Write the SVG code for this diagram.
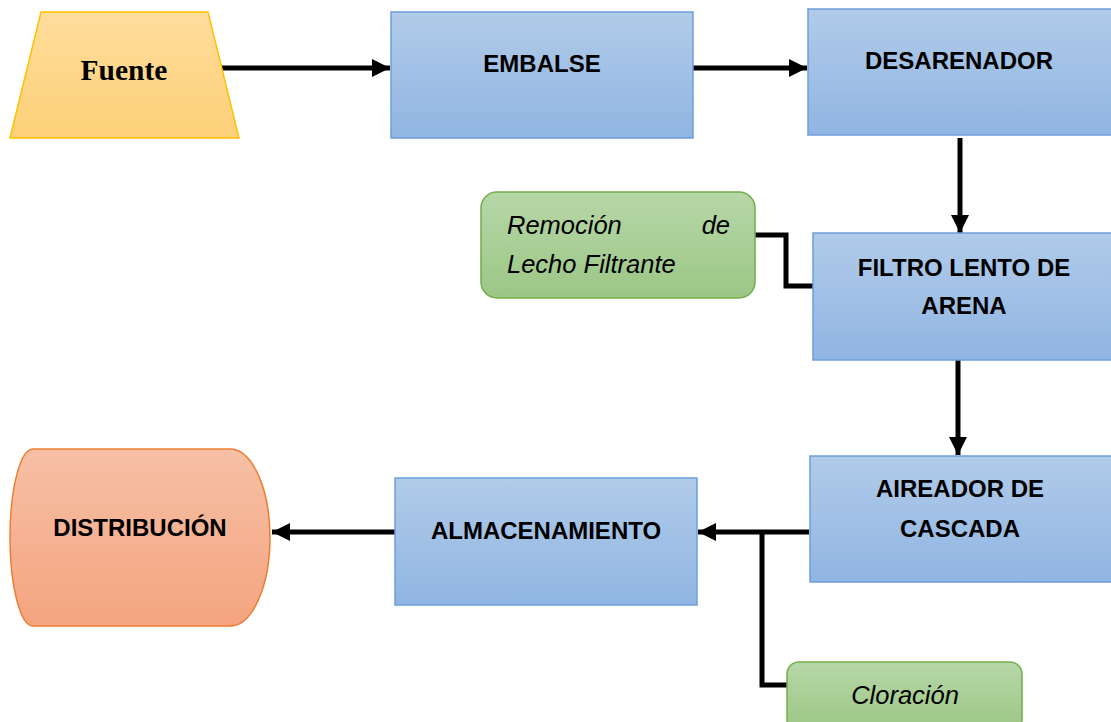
<svg xmlns="http://www.w3.org/2000/svg" width="1111" height="722" viewBox="0 0 1111 722">
<defs>
<linearGradient id="gBlue" x1="0" y1="0" x2="0" y2="1"><stop offset="0" stop-color="#b1cbe9"/><stop offset="1" stop-color="#90b5e2"/></linearGradient>
<linearGradient id="gYel" x1="0" y1="0" x2="0" y2="1"><stop offset="0" stop-color="#ffdd9c"/><stop offset="1" stop-color="#fdd078"/></linearGradient>
<linearGradient id="gGrn" x1="0" y1="0" x2="0" y2="1"><stop offset="0" stop-color="#b6d7a8"/><stop offset="1" stop-color="#9cc685"/></linearGradient>
<linearGradient id="gOra" x1="0" y1="0" x2="0" y2="1"><stop offset="0" stop-color="#f6c0a6"/><stop offset="1" stop-color="#f4a47f"/></linearGradient>
<marker id="ah" markerUnits="userSpaceOnUse" markerWidth="19" markerHeight="18" refX="18" refY="9" orient="auto"><path d="M0,0 L18,9 L0,18 Z" fill="#000"/></marker>
<style>
.box{fill:url(#gBlue);stroke:#6d9ed8;stroke-width:1.5}
.grn{fill:url(#gGrn);stroke:#72ad4a;stroke-width:1.5}
.t{font-family:"Liberation Sans",Arial,sans-serif;font-weight:bold;font-size:24px;fill:#000;text-anchor:middle}
.it{font-family:"Liberation Sans",Arial,sans-serif;font-style:italic;font-size:25.5px;fill:#000}
.c{fill:none;stroke:#000;stroke-width:5}
</style>
</defs>
<g id="connectors">
<line class="c" x1="222" y1="68" x2="390" y2="68" marker-end="url(#ah)"/>
<line class="c" x1="693" y1="68" x2="807" y2="68" marker-end="url(#ah)"/>
<line class="c" x1="960" y1="138" x2="960" y2="233" marker-end="url(#ah)"/>
<polyline class="c" points="755,235 786,235 786,286 813,286"/>
<line class="c" x1="958" y1="360" x2="958" y2="455" marker-end="url(#ah)"/>
<line class="c" x1="809" y1="532" x2="698" y2="532" marker-end="url(#ah)"/>
<polyline class="c" points="762,532 762,685 788,685"/>
<line class="c" x1="395" y1="532" x2="272" y2="532" marker-end="url(#ah)"/>
</g>
<g id="fuente">
<polygon points="41,12 208,12 239,138 10,138" fill="url(#gYel)" stroke="#ffc000" stroke-width="1.5"/>
<text x="124" y="80" style="font-family:'Liberation Serif','Times New Roman',serif;font-weight:bold;font-size:29.5px;text-anchor:middle">Fuente</text>
</g>
<g id="embalse">
<rect class="box" x="391" y="12" width="302" height="126"/>
<text class="t" x="542" y="72">EMBALSE</text>
</g>
<g id="desarenador">
<rect class="box" x="808" y="9" width="306" height="126"/>
<text class="t" x="959" y="69">DESARENADOR</text>
</g>
<g id="remocion">
<rect class="grn" x="481" y="192" width="274" height="106" rx="16"/>
<text class="it" x="507" y="234">Remoción</text>
<text class="it" x="730" y="234" text-anchor="end">de</text>
<text class="it" x="507" y="273">Lecho Filtrante</text>
</g>
<g id="filtro">
<rect class="box" x="813" y="233" width="301" height="127"/>
<text class="t" x="964" y="276">FILTRO LENTO DE</text>
<text class="t" x="964" y="314">ARENA</text>
</g>
<g id="aireador">
<rect class="box" x="810" y="456" width="304" height="126"/>
<text class="t" x="960" y="497">AIREADOR DE</text>
<text class="t" x="960" y="537">CASCADA</text>
</g>
<g id="almacenamiento">
<rect class="box" x="395" y="478" width="302" height="127"/>
<text class="t" x="546" y="539">ALMACENAMIENTO</text>
</g>
<g id="cloracion">
<rect class="grn" x="787" y="662" width="235" height="70" rx="12"/>
<text class="it" x="905" y="704" text-anchor="middle">Cloración</text>
</g>
<g id="distribucion">
<path d="M33,449 L230,449 A40,88.5 0 0 1 230,626 L33,626 A23,88.5 0 0 1 33,449 Z" fill="url(#gOra)" stroke="#ed7d31" stroke-width="1.5"/>
<text class="t" x="140" y="536">DISTRIBUCIÓN</text>
</g>
</svg>
